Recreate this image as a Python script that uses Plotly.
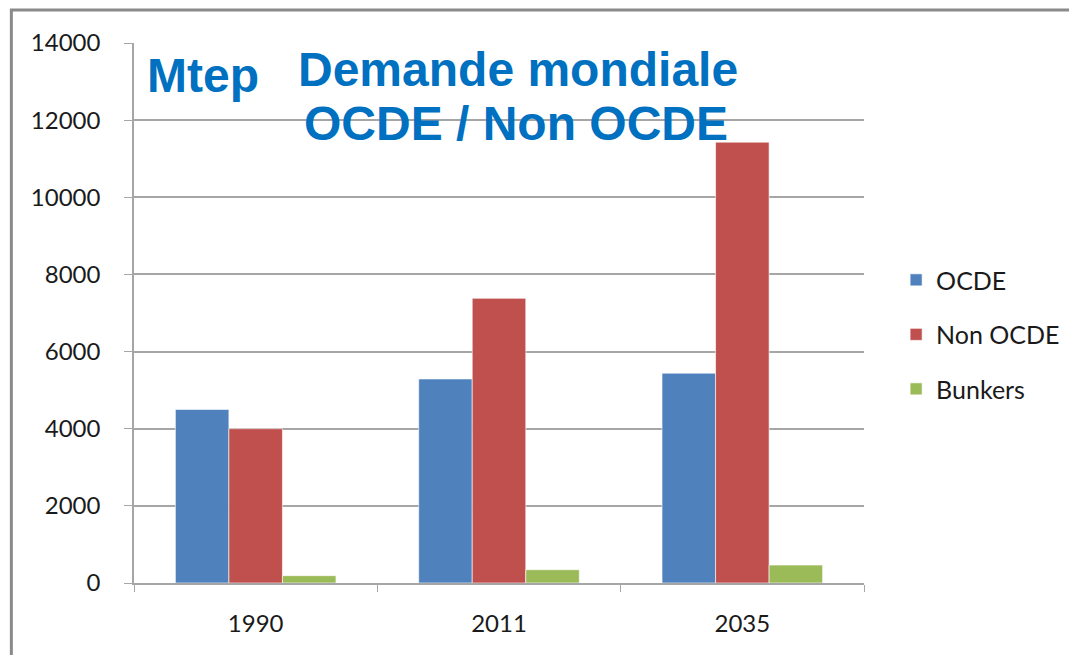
import plotly.graph_objects as go

years = ["1990", "2011", "2035"]
ocde = [4500, 5290, 5440]
non_ocde = [4000, 7380, 11430]
bunkers = [190, 345, 465]

series = [
    ("OCDE", ocde, "#4F81BD"),
    ("Non OCDE", non_ocde, "#C0504D"),
    ("Bunkers", bunkers, "#9BBB59"),
]

fig = go.Figure()
for i, (name, vals, color) in enumerate(series):
    fig.add_trace(
        go.Bar(
            name=name,
            x=years,
            y=vals,
            legendgroup=f"g{i}",
            marker=dict(color=color, line=dict(color="rgba(255,255,255,0.6)", width=1)),
        )
    )

title_font = dict(family="Liberation Sans, Arial", size=48, color="#0070C0")
grid = "#a6a6a6"

# page body has an 8px margin, so the figure is shifted; margins compensate
fig.update_layout(
    width=1077,
    height=655,
    margin=dict(l=126, r=221, t=35, b=80),
    paper_bgcolor="white",
    plot_bgcolor="white",
    barmode="group",
    bargap=0.34,
    bargroupgap=0,
    font=dict(family="Lato, Carlito, sans-serif", size=24, color="#1a1a1a"),
    legend=dict(
        x=1.044,
        y=0.46,
        xanchor="left",
        yanchor="middle",
        tracegroupgap=19,
        font=dict(size=25),
        itemwidth=30,
    ),
    xaxis=dict(
        type="category",
        tickson="boundaries",
        ticks="outside",
        ticklen=7,
        tickcolor=grid,
        showline=True,
        linecolor=grid,
        linewidth=1.5,
        showgrid=False,
        ticklabelstandoff=18,
    ),
    yaxis=dict(
        range=[0, 14000],
        dtick=2000,
        tickformat="d",
        ticks="outside",
        ticklen=8,
        tickcolor=grid,
        showline=True,
        linecolor=grid,
        linewidth=1.5,
        showgrid=True,
        gridcolor=grid,
        gridwidth=1.5,
        zeroline=False,
        ticklabelstandoff=19,
    ),
    annotations=[
        dict(text="<b>Mtep</b>", x=0.0945, y=0.94, xref="paper", yref="paper",
             showarrow=False, font=title_font, xanchor="center", yanchor="middle"),
        dict(text="<b>Demande mondiale</b>", x=0.526, y=0.951, xref="paper", yref="paper",
             showarrow=False, font=title_font, xanchor="center", yanchor="middle"),
        dict(text="<b>OCDE / Non OCDE</b>", x=0.523, y=0.851, xref="paper", yref="paper",
             showarrow=False, font=title_font, xanchor="center", yanchor="middle"),
    ],
    shapes=[
        dict(type="rect", xref="paper", yref="paper", x0=-0.168, y0=-0.4, x1=1.5, y1=1.061,
             line=dict(color="#8a8a8a", width=3), fillcolor="rgba(0,0,0,0)", layer="below"),
    ],
)

fig.write_html("out.html")
